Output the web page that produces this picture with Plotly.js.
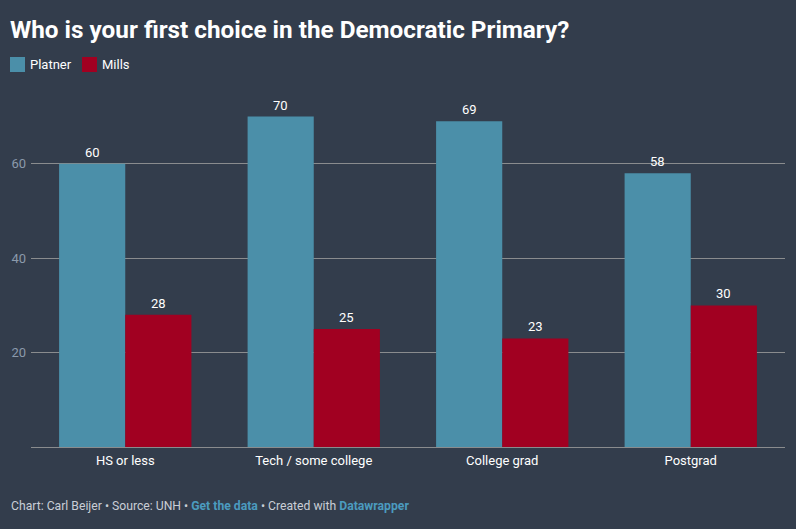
<!DOCTYPE html>
<html>
<head>
<meta charset="utf-8">
<script src="https://cdn.plot.ly/plotly-3.0.1.min.js"></script>
<style>
html,body{margin:0;padding:0;background:#333d4c;}
#chart{width:796px;height:529px;}
</style>
</head>
<body>
<div id="chart"></div>
<script>
const categories = ["HS or less", "Tech / some college", "College grad", "Postgrad"];
const seriesNames = ["Platner", "Mills"];
const platner = [60, 70, 69, 58];
const mills = [28, 25, 23, 30];
const yTicks = [20, 40, 60];

const BG = "#333d4c";
const COLORS = ["#4b8fa9", "#a10021"];

// plot-area geometry in pixels (for placing non-data decorations)
const W = 796, H = 529, ML = 31, MR = 11, MT = 93, MB = 82;
const PW = W - ML - MR, PH = H - MT - MB;
const px = p => (p - ML) / PW;
const py = p => (H - MB - p) / PH;

const traces = [platner, mills].map((vals, k) => ({
  type: "bar", name: seriesNames[k], x: categories, y: vals,
  marker: {color: COLORS[k]}, hoverinfo: "none"
}));

const annotations = [];
[[platner, -33], [mills, 33]].forEach(([vals, dx]) => {
  vals.forEach((v, i) => {
    annotations.push({
      x: categories[i], y: v, xref: "x", yref: "y", text: String(v),
      showarrow: false, xshift: dx, yanchor: "bottom", yshift: 2,
      font: {family: "Roboto", size: 13, color: "#ffffff"}
    });
  });
});

// legend (manual, Datawrapper style)
const shapes = [];
const legendX = [10, 82];
seriesNames.forEach((n, k) => {
  shapes.push({type: "rect", xref: "paper", yref: "paper",
    x0: px(legendX[k]), x1: px(legendX[k] + 15), y0: py(72), y1: py(57),
    fillcolor: COLORS[k], line: {width: 0}});
  annotations.push({xref: "paper", yref: "paper", x: px(legendX[k] + 18), y: py(64.5),
    xanchor: "left", yanchor: "middle", showarrow: false, text: n,
    font: {family: "Roboto", size: 13, color: "#ffffff"}});
});

annotations.push({
  xref: "paper", yref: "paper", x: px(9), y: py(506), xanchor: "left", yanchor: "middle",
  showarrow: false, align: "left",
  text: 'Chart: Carl Beijer • Source: UNH • <b><span style="color:#4b9bbf">Get the data</span></b> • Created with <b><span style="color:#4b9bbf">Datawrapper</span></b>',
  font: {family: "Roboto", size: 12.2, color: "#c9ced6"}
});

const layout = {
  width: W, height: H,
  paper_bgcolor: BG, plot_bgcolor: BG,
  margin: {l: ML, r: MR, t: MT, b: MB, autoexpand: false},
  font: {family: "Roboto", color: "#ffffff"},
  title: {text: "<b>Who is your first choice in the Democratic Primary?</b>",
          xref: "container", x: 10 / W, xanchor: "left",
          yref: "container", y: 1 - 29 / H, yanchor: "middle",
          pad: {l: 0, t: 0, b: 0, r: 0},
          font: {family: "Roboto", size: 24.3, color: "#ffffff"}},
  showlegend: false,
  barmode: "group", bargap: 0.298, bargroupgap: 0,
  xaxis: {type: "category", showgrid: false, ticks: "", showline: false, automargin: false,
          ticklabelstandoff: 4,
          tickfont: {family: "Roboto", size: 13, color: "#ffffff"}, fixedrange: true},
  yaxis: {range: [0, 75], tickvals: yTicks, ticktext: yTicks.map(String), automargin: false,
          showgrid: true, gridcolor: "#8a8c8e", gridwidth: 1,
          zeroline: true, zerolinecolor: "#8a8c8e", zerolinewidth: 1,
          showline: false, ticks: "", ticklabelstandoff: 4,
          tickfont: {family: "Roboto", size: 13, color: "#8b9aab"}, fixedrange: true},
  shapes: shapes,
  annotations: annotations
};

Plotly.newPlot("chart", traces, layout, {displayModeBar: false, staticPlot: true});
</script>
</body>
</html>
